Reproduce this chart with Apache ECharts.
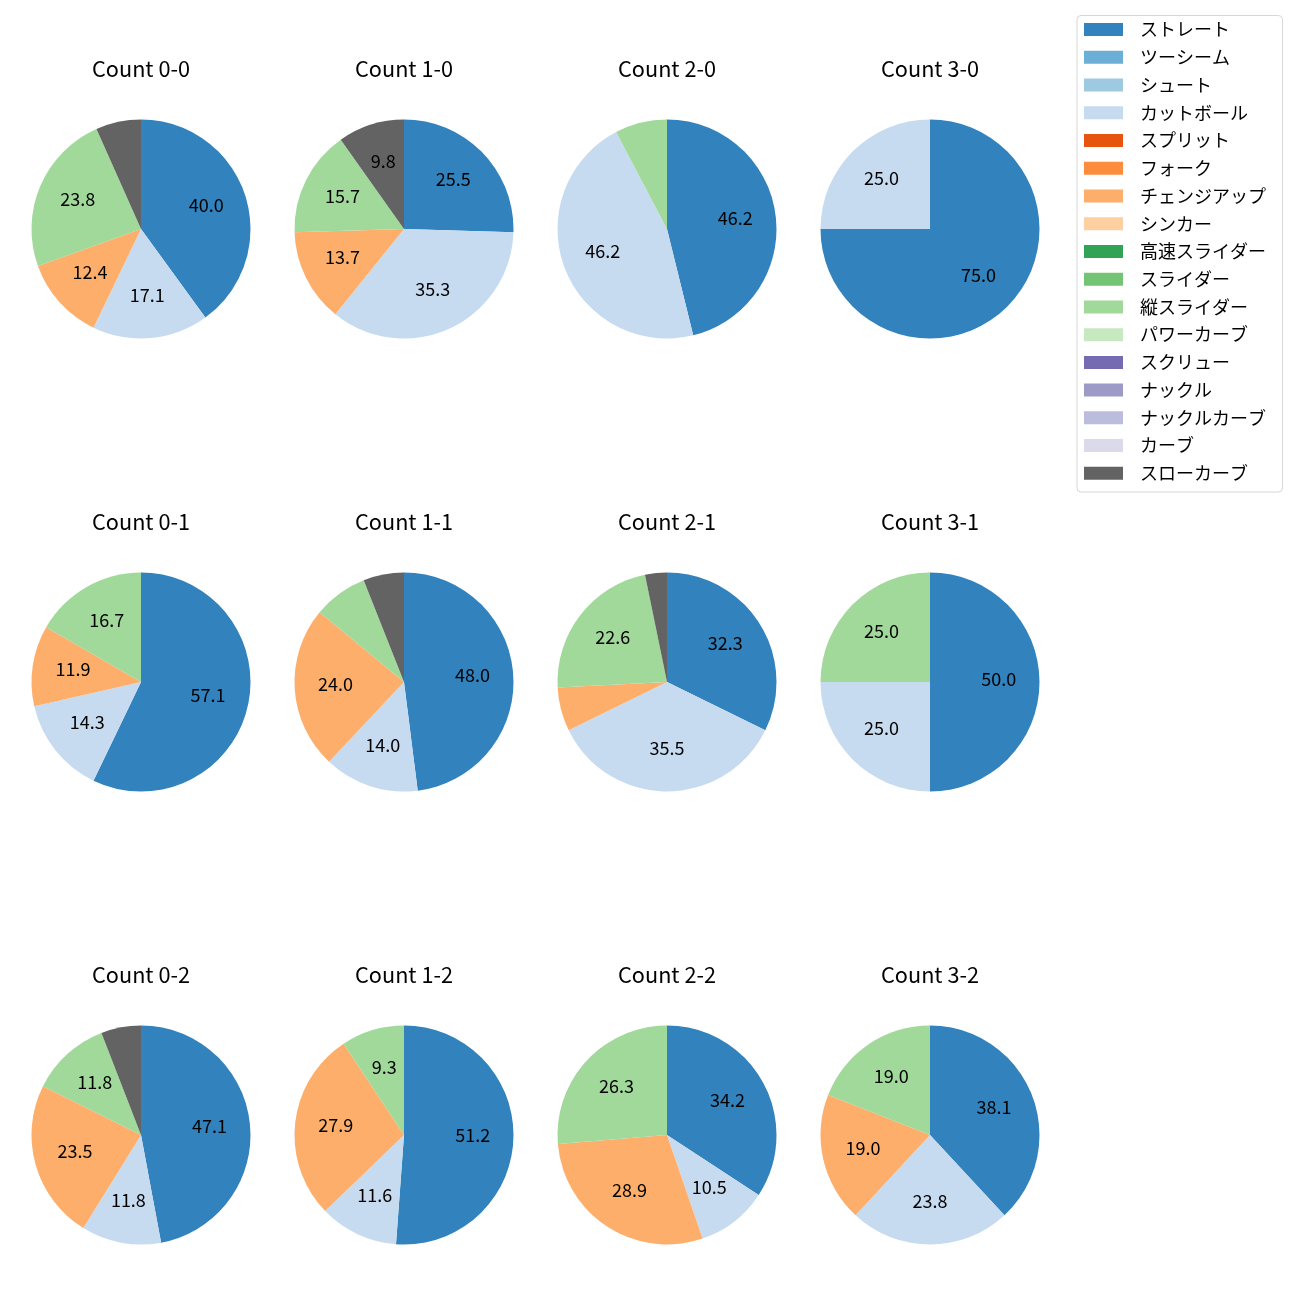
<!DOCTYPE html>
<html><head><meta charset="utf-8">
<script src="https://cdn.jsdelivr.net/npm/echarts@6/dist/echarts.min.js"></script>
<style>html,body{margin:0;padding:0;background:#fff}#c{width:1300px;height:1300px}</style>
</head><body><div id="c"></div>
<script>
const categories = ['ストレート','ツーシーム','シュート','カットボール','スプリット','フォーク','チェンジアップ','シンカー','高速スライダー','スライダー','縦スライダー','パワーカーブ','スクリュー','ナックル','ナックルカーブ','カーブ','スローカーブ'];
const colors = ['#3182bd','#6baed6','#9ecae1','#c6dbef','#e6550d','#fd8d3c','#fdae6b','#fdd0a2','#31a354','#74c476','#a1d99b','#c7e9c0','#756bb1','#9e9ac8','#bcbddc','#dadaeb','#636363'];
const countLabels = ['0-0','1-0','2-0','3-0','0-1','1-1','2-1','3-1','0-2','1-2','2-2','3-2'];
// pitch counts per ball-strike count (same order as countLabels)
const straight   = [42,13,6,3, 24,24,10,2, 8,22,13,8];
const cutball    = [18,18,6,1,  6, 7,11,1, 2, 5, 4,5];
const changeup   = [13, 7,0,0,  5,12, 2,0, 4,12,11,4];
const tateSlider = [25, 8,1,0,  7, 4, 7,1, 2, 4,10,4];
const slowCurve  = [ 7, 5,0,0,  0, 3, 1,0, 1, 0, 0,0];
const pitchValues = {'ストレート': straight, 'カットボール': cutball, 'チェンジアップ': changeup, '縦スライダー': tateSlider, 'スローカーブ': slowCurve};

const FONT = '"Noto Sans CJK JP", "Noto Sans", sans-serif';
const colX = [141, 404, 667, 930];
const rowY = [229, 682, 1135];
const R = 109.5;

const series = [];
const overlays = [];
const titles = [];
countLabels.forEach((lab, i) => {
  const cx = colX[i % 4], cy = rowY[Math.floor(i / 4)];
  const vals = categories.map(c => pitchValues[c] ? pitchValues[c][i] : 0);
  const total = vals.reduce((a, b) => a + b, 0);
  series.push({
    type: 'pie', center: [cx, cy], radius: R, startAngle: 90, clockwise: true,
    animation: false, avoidLabelOverlap: false, silent: true,
    label: {show: false}, labelLine: {show: false},
    itemStyle: {borderWidth: 0},
    data: categories.map((c, k) => ({name: c, value: vals[k], itemStyle: {color: colors[k]}}))
  });
  overlays.push({
    type: 'pie', center: [cx, cy], radius: R * 1.2, startAngle: 90, clockwise: true,
    animation: false, avoidLabelOverlap: false, silent: true,
    labelLine: {show: false},
    itemStyle: {color: 'rgba(0,0,0,0)', borderWidth: 0},
    label: {
      show: true, position: 'inside', fontSize: 18, fontFamily: FONT, color: '#000',
      formatter: p => { const pct = p.value / total * 100; return pct >= 9 ? pct.toFixed(1) : ''; }
    },
    labelLayout: {dy: -2.5},
    data: vals.map(v => ({value: v}))
  });
  titles.push({
    text: 'Count ' + lab, left: cx, top: cy - 160.5 - 13, textAlign: 'center', padding: 0,
    textStyle: {fontSize: 21.7, fontWeight: 'normal', color: '#000', fontFamily: FONT, lineHeight: 26}
  });
});

const chart = echarts.init(document.getElementById('c'));
chart.setOption({
  backgroundColor: '#fff',
  title: titles,
  legend: {
    orient: 'vertical', left: 1084, top: 20.5, padding: 0,
    itemWidth: 39, itemHeight: 13, itemGap: 9.74, icon: 'rect', selectedMode: false,
    data: categories,
    textStyle: {fontSize: 18, fontFamily: FONT, color: '#000', lineHeight: 18, padding: [0, 0, 0, 12]}
  },
  graphic: [{
    type: 'rect', z: 1, shape: {x: 1077, y: 15.5, width: 205.5, height: 476.5, r: 4},
    style: {fill: '#fff', stroke: '#d6d6d6', lineWidth: 1}
  }],
  series: series.concat(overlays)
});
</script></body></html>
